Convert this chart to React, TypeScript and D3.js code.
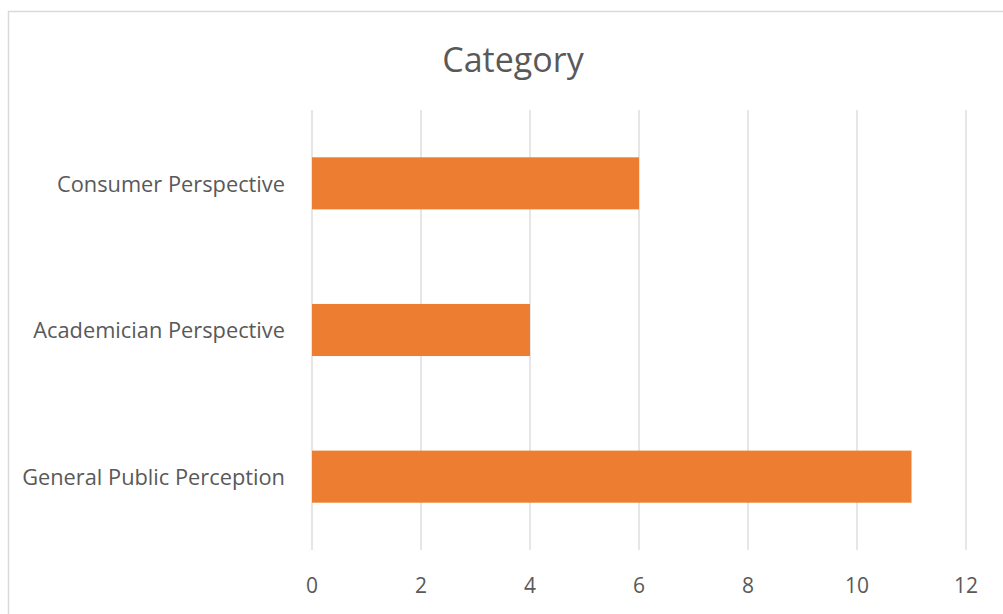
import React from "react";
import * as d3 from "d3";

const categories = ["Consumer Perspective", "Academician Perspective", "General Public Perception"];
const values = [6, 4, 11];
const xTicks = [0, 2, 4, 6, 8, 10, 12];
const title = "Category";

const W = 1003;
const H = 614;
const FONT = "'Open Sans', sans-serif";
const TEXT = "#595959";
const GRID = "#D9D9D9";
const BAR = "#ED7D31";

export default function App() {
  const left = 312, right = 966, top = 110, bottom = 550;
  const x = d3.scaleLinear().domain([0, 12]).range([left, right]);
  const y = d3.scaleBand<string>().domain(categories).range([top, bottom]).paddingInner(0.645).paddingOuter(0.3225);
  return (
    <svg width={W} height={H} style={{ position: "absolute", left: 0, top: 0, background: "#fff" }}>
      <rect x={8.5} y={11.5} width={W + 10} height={H + 10} fill="#fff" stroke={GRID} strokeWidth={1.5} />
      <text x={513} y={72} textAnchor="middle" fontFamily={FONT} fontSize={34} fill={TEXT}>{title}</text>
      {xTicks.map((t) => (
        <g key={t}>
          <line x1={x(t)} x2={x(t)} y1={top} y2={bottom} stroke={GRID} strokeWidth={1.3} />
          <text x={x(t)} y={593} textAnchor="middle" fontFamily={FONT} fontSize={21} fill={TEXT}>{t}</text>
        </g>
      ))}
      {categories.map((c, i) => (
        <g key={c}>
          <rect x={x(0)} y={y(c)!} width={x(values[i]) - x(0)} height={y.bandwidth()} fill={BAR} />
          <text x={285} y={y(c)! + y.bandwidth() / 2} dy="0.38em" textAnchor="end" fontFamily={FONT} fontSize={21.8} fill={TEXT}>{c}</text>
        </g>
      ))}
    </svg>
  );
}
